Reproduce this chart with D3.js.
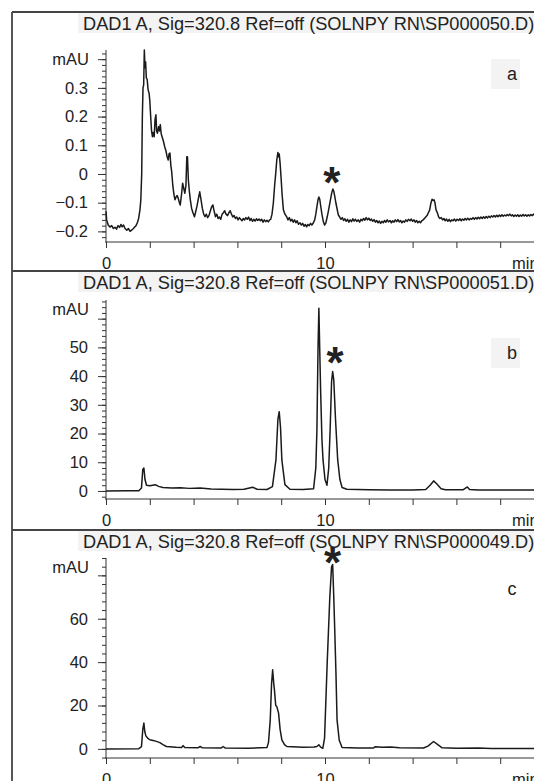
<!DOCTYPE html>
<html>
<head>
<meta charset="utf-8">
<script src="https://cdn.jsdelivr.net/npm/d3@7"></script>
<style>
  body { margin: 0; background: #fff; }
  text { font-family: "Liberation Sans", Arial, sans-serif; fill: #222; }
</style>
</head>
<body>
<svg id="chart" width="534" height="781"></svg>
<script>
// ---- data: [minutes, mAU] ----
var titles = [
  "DAD1 A, Sig=320.8 Ref=off (SOLNPY RN\\SP000050.D)",
  "DAD1 A, Sig=320.8 Ref=off (SOLNPY RN\\SP000051.D)",
  "DAD1 A, Sig=320.8 Ref=off (SOLNPY RN\\SP000049.D)"
];
var panelLabels = ["a", "b", "c"];
var xTicks = [0, 2, 4, 6, 8, 10, 12, 14, 16, 18, 20];
var xTickLabels = {0: "0", 10: "10"};

var traceA = [[0.00,-0.13],[0.03,-0.16],[0.10,-0.178],[0.18,-0.185],[0.26,-0.18],[0.34,-0.19],[0.41,-0.186],[0.48,-0.192],[0.55,-0.18],[0.62,-0.186],[0.68,-0.176],[0.74,-0.184],[0.80,-0.178],[0.87,-0.19],[0.95,-0.196],[1.02,-0.19],[1.10,-0.2],[1.18,-0.195],[1.25,-0.19],[1.31,-0.185],[1.37,-0.18],[1.43,-0.17],[1.49,-0.155],[1.55,-0.125],[1.59,-0.09],[1.63,0.0],[1.66,0.2],[1.69,0.30],[1.72,0.31],[1.75,0.432],[1.78,0.37],[1.81,0.39],[1.84,0.335],[1.88,0.33],[1.92,0.295],[1.97,0.28],[2.0,0.255],[2.04,0.2],[2.08,0.15],[2.12,0.13],[2.16,0.145],[2.2,0.13],[2.24,0.19],[2.28,0.206],[2.31,0.15],[2.35,0.142],[2.4,0.165],[2.44,0.15],[2.48,0.172],[2.52,0.14],[2.56,0.13],[2.62,0.115],[2.68,0.095],[2.74,0.08],[2.79,0.06],[2.84,0.049],[2.88,0.07],[2.92,0.073],[2.96,0.03],[3.0,0.008],[3.05,-0.04],[3.1,-0.07],[3.15,-0.09],[3.2,-0.08],[3.25,-0.075],[3.3,-0.085],[3.35,-0.1],[3.39,-0.108],[3.45,-0.07],[3.5,-0.032],[3.55,-0.05],[3.6,-0.067],[3.65,-0.04],[3.69,0.06],[3.72,0.06],[3.76,-0.02],[3.8,-0.056],[3.85,-0.09],[3.91,-0.12],[3.97,-0.135],[4.04,-0.149],[4.1,-0.13],[4.16,-0.11],[4.22,-0.085],[4.28,-0.062],[4.34,-0.09],[4.4,-0.12],[4.46,-0.14],[4.52,-0.149],[4.58,-0.14],[4.64,-0.152],[4.7,-0.145],[4.76,-0.13],[4.82,-0.115],[4.88,-0.108],[4.94,-0.13],[5.0,-0.149],[5.06,-0.14],[5.12,-0.155],[5.18,-0.15],[5.24,-0.158],[5.3,-0.14],[5.36,-0.135],[5.42,-0.128],[5.48,-0.14],[5.55,-0.145],[5.61,-0.135],[5.67,-0.128],[5.73,-0.14],[5.79,-0.15],[5.85,-0.145],[5.91,-0.155],[5.97,-0.15],[6.03,-0.16],[6.09,-0.152],[6.15,-0.158],[6.21,-0.163],[6.27,-0.155],[6.33,-0.16],[6.39,-0.152],[6.45,-0.158],[6.51,-0.15],[6.57,-0.162],[6.63,-0.155],[6.69,-0.165],[6.75,-0.158],[6.81,-0.164],[6.87,-0.156],[6.93,-0.162],[6.99,-0.157],[7.05,-0.163],[7.11,-0.158],[7.17,-0.168],[7.23,-0.16],[7.29,-0.166],[7.35,-0.161],[7.41,-0.167],[7.47,-0.16],[7.52,-0.158],[7.58,-0.14],[7.64,-0.102],[7.7,-0.04],[7.75,0.002],[7.8,0.05],[7.85,0.075],[7.88,0.06],[7.91,0.07],[7.95,0.037],[8.0,-0.02],[8.04,-0.07],[8.1,-0.125],[8.17,-0.14],[8.25,-0.149],[8.31,-0.16],[8.37,-0.152],[8.43,-0.164],[8.49,-0.158],[8.55,-0.168],[8.61,-0.16],[8.67,-0.17],[8.73,-0.163],[8.79,-0.175],[8.86,-0.17],[8.92,-0.178],[8.98,-0.172],[9.04,-0.182],[9.1,-0.176],[9.16,-0.184],[9.22,-0.176],[9.28,-0.18],[9.34,-0.172],[9.4,-0.178],[9.47,-0.17],[9.53,-0.16],[9.58,-0.14],[9.63,-0.115],[9.68,-0.09],[9.72,-0.08],[9.76,-0.088],[9.81,-0.115],[9.86,-0.14],[9.92,-0.165],[9.98,-0.178],[10.04,-0.17],[10.1,-0.15],[10.15,-0.131],[10.2,-0.11],[10.26,-0.085],[10.31,-0.065],[10.36,-0.052],[10.4,-0.06],[10.45,-0.08],[10.5,-0.102],[10.56,-0.125],[10.61,-0.143],[10.67,-0.15],[10.73,-0.158],[10.79,-0.152],[10.85,-0.162],[10.91,-0.156],[10.97,-0.165],[11.03,-0.158],[11.09,-0.168],[11.15,-0.16],[11.21,-0.166],[11.27,-0.156],[11.33,-0.164],[11.39,-0.158],[11.45,-0.165],[11.52,-0.16],[11.58,-0.168],[11.64,-0.158],[11.7,-0.163],[11.76,-0.155],[11.82,-0.161],[11.88,-0.152],[11.94,-0.16],[12.0,-0.154],[12.06,-0.162],[12.12,-0.157],[12.18,-0.165],[12.24,-0.159],[12.3,-0.168],[12.36,-0.162],[12.42,-0.17],[12.48,-0.164],[12.54,-0.172],[12.6,-0.165],[12.66,-0.17],[12.72,-0.162],[12.78,-0.168],[12.84,-0.16],[12.9,-0.167],[12.97,-0.162],[13.03,-0.17],[13.09,-0.163],[13.15,-0.168],[13.21,-0.16],[13.27,-0.166],[13.33,-0.159],[13.39,-0.167],[13.45,-0.162],[13.51,-0.17],[13.57,-0.164],[13.63,-0.168],[13.69,-0.16],[13.75,-0.165],[13.81,-0.158],[13.88,-0.163],[13.94,-0.157],[14.0,-0.165],[14.06,-0.16],[14.12,-0.168],[14.18,-0.162],[14.24,-0.17],[14.3,-0.165],[14.36,-0.17],[14.42,-0.163],[14.48,-0.16],[14.54,-0.155],[14.6,-0.15],[14.66,-0.145],[14.72,-0.135],[14.78,-0.125],[14.84,-0.1],[14.89,-0.088],[14.94,-0.092],[14.98,-0.09],[15.02,-0.1],[15.07,-0.125],[15.13,-0.135],[15.19,-0.15],[15.25,-0.155],[15.31,-0.152],[15.37,-0.16],[15.43,-0.155],[15.49,-0.163],[15.55,-0.157],[15.61,-0.165],[15.67,-0.158],[15.73,-0.166],[15.79,-0.16],[15.85,-0.163],[15.91,-0.157],[15.97,-0.164],[16.03,-0.158],[16.1,-0.162],[16.16,-0.156],[16.22,-0.163],[16.28,-0.157],[16.34,-0.161],[16.4,-0.155],[16.46,-0.16],[16.52,-0.154],[16.58,-0.16],[16.64,-0.155],[16.7,-0.158],[16.76,-0.152],[16.82,-0.158],[16.88,-0.152],[16.94,-0.157],[17.0,-0.151],[17.06,-0.156],[17.12,-0.15],[17.18,-0.155],[17.24,-0.149],[17.3,-0.154],[17.36,-0.148],[17.42,-0.153],[17.48,-0.147],[17.54,-0.152],[17.6,-0.146],[17.66,-0.15],[17.72,-0.145],[17.78,-0.15],[17.84,-0.144],[17.9,-0.149],[17.96,-0.143],[18.02,-0.148],[18.08,-0.142],[18.14,-0.147],[18.2,-0.143],[18.26,-0.146],[18.32,-0.141],[18.38,-0.145],[18.44,-0.14],[18.5,-0.146],[18.56,-0.142],[18.62,-0.148],[18.68,-0.143],[18.74,-0.147],[18.8,-0.142],[18.86,-0.148],[18.92,-0.143],[18.98,-0.147],[19.04,-0.141],[19.1,-0.146],[19.16,-0.142],[19.22,-0.147],[19.28,-0.142],[19.34,-0.146],[19.4,-0.141],[19.46,-0.145],[19.52,-0.14],[19.58,-0.145],[19.64,-0.142],[19.7,-0.146],[19.8,-0.143],[19.9,-0.146],[20.0,-0.143]];

var traceB = [[0,0],[1.0,0.1],[1.5,0.1],[1.62,1],[1.68,7.5],[1.73,8],[1.78,4],[1.85,2],[2.0,1.8],[2.25,2.2],[2.4,1.6],[2.6,1.2],[3.0,1.0],[3.4,1.1],[3.8,0.9],[4.3,1.0],[4.8,0.7],[5.3,0.6],[5.8,0.5],[6.3,0.6],[6.7,1.3],[6.9,0.6],[7.35,0.5],[7.6,1.5],[7.76,10.8],[7.85,25],[7.91,27.6],[7.97,22],[8.03,10.8],[8.17,2.2],[8.4,0.6],[9.0,0.5],[9.48,0.8],[9.58,8],[9.63,21],[9.68,49],[9.72,63.6],[9.76,49],[9.8,35],[9.86,18],[9.91,10.8],[10.0,4],[10.09,2],[10.17,8],[10.24,22.6],[10.3,38],[10.35,41.6],[10.4,38.7],[10.48,25],[10.58,10.8],[10.68,4],[10.78,1.2],[11,0.6],[12,0.4],[13,0.3],[14,0.3],[14.6,0.5],[14.8,2],[14.96,3.5],[15.1,2.5],[15.3,0.8],[15.5,0.4],[16.3,0.4],[16.5,1.4],[16.6,0.5],[17,0.3],[20,0.3]];

var traceC = [[0,0],[1.5,0.1],[1.62,1],[1.68,9],[1.73,11.9],[1.77,8],[1.82,6],[1.9,5],[2.0,4.2],[2.2,3.8],[2.46,2.9],[2.6,2],[2.76,1.1],[3.2,0.7],[3.45,0.6],[3.52,1.5],[3.6,0.6],[4.2,0.5],[4.3,1.1],[4.4,0.5],[5.25,0.4],[5.35,1.1],[5.45,0.4],[6.5,0.3],[7.35,0.6],[7.42,3],[7.5,13.4],[7.56,30],[7.61,36.5],[7.66,30],[7.69,27.3],[7.75,20],[7.8,19.5],[7.84,18],[7.88,16.5],[7.95,9],[8.03,4.2],[8.15,2],[8.26,1.1],[9,0.8],[9.5,0.9],[9.63,1.1],[9.72,1.9],[9.8,0.8],[9.9,0.2],[9.98,5],[10.1,39.5],[10.22,70],[10.3,84],[10.35,85],[10.4,70],[10.44,56.5],[10.5,35],[10.55,13.4],[10.65,4],[10.78,0.6],[11.5,0.4],[12.2,0.4],[12.3,1.0],[12.6,0.8],[13.0,0.9],[13.4,0.5],[14.5,0.4],[14.7,1.3],[14.96,3.4],[15.15,2],[15.35,0.5],[16,0.3],[17,0.4],[17.6,0.2],[20,0.2]];

var yMajorA = [-0.2, -0.1, 0, 0.1, 0.2, 0.3, 0.4];
var yMajorB = [0, 10, 20, 30, 40, 50, 60];
var yMajorC = [0, 20, 40, 60, 80];
var yMinorA = d3.range(-22, 43, 2).map(function(d) { return d / 100; });
var yMinorB = d3.range(-2, 67, 2);
var yMinorC = d3.range(-4, 89, 4);
// peak marked with the asterisk (minutes, mAU)
var starA = [10.36, -0.052], starB = [10.35, 41.6], starC = [10.35, 85];

var svg = d3.select("#chart");

var panels = [
  {top: 12,  axisY: 242, yDom: [-0.237, 0.432], yTop: 50,  trace: traceA, major: yMajorA, minor: yMinorA, topTick: 0.4, star: starA, starDx: -1, starGap: 9,
   fmt: function(d) { return d === 0 ? "0" : d3.format(".1f")(d); }, box: true, labelY: 80},
  {top: 271, axisY: 499, yDom: [-2.8, 66.5],    yTop: 300, trace: traceB, major: yMajorB, minor: yMinorB, topTick: 60,  star: starB, starDx: 2.5, starGap: 6,
   fmt: d3.format("d"), box: true, labelY: 359},
  {top: 530, axisY: 758, yDom: [-4.2, 88],      yTop: 558, trace: traceC, major: yMajorC, minor: yMinorC, topTick: 80,  star: starC, starDx: 0, starGap: 13,
   fmt: d3.format("d"), box: false, labelY: 595}
];

var x = d3.scaleLinear().domain([0, 20]).range([106, 544]);

panels.forEach(function(p, i) {
  var g = svg.append("g").attr("class", "panel");
  var y = d3.scaleLinear().domain(p.yDom).range([p.axisY, p.yTop]);

  // title strip
  g.append("rect")
    .attr("x", 78).attr("y", p.top + 1)
    .attr("width", 460).attr("height", 20)
    .attr("fill", "#f3f3f3");
  g.append("text")
    .attr("x", 83).attr("y", p.top + 18)
    .style("font-size", "18.2px")
    .text(titles[i]);

  // y axis: minor then major ticks
  g.append("g")
    .attr("transform", "translate(106,0)")
    .call(d3.axisLeft(y).tickValues(p.minor).tickSize(4).tickSizeOuter(0).tickFormat(""))
    .call(function(s) { s.select(".domain").remove(); })
    .selectAll("line").attr("stroke", "#333");
  var ya = g.append("g")
    .attr("transform", "translate(106,0)")
    .call(d3.axisLeft(y).tickValues(p.major).tickSize(8).tickSizeOuter(0).tickPadding(10)
      .tickFormat(function(d) { return d === p.topTick ? "" : p.fmt(d); }));
  ya.select(".domain").attr("d", "M0," + p.yTop + "V" + p.axisY);
  ya.selectAll("text").style("font-size", "16.5px").style("font-family", "Liberation Sans, Arial, sans-serif").attr("fill", "#222");
  ya.selectAll("line, path").attr("stroke", "#333");
  g.append("text")
    .attr("x", 89).attr("y", p.yTop + 15)
    .attr("text-anchor", "end")
    .style("font-size", "16.5px")
    .text("mAU");

  // x axis
  var xa = g.append("g")
    .attr("transform", "translate(0," + p.axisY + ")")
    .call(d3.axisBottom(x).tickValues(xTicks).tickSize(6).tickSizeOuter(0).tickPadding(9)
      .tickFormat(function(d) { return xTickLabels[d] || ""; }));
  xa.select(".domain").attr("d", "M105,0H560");
  xa.selectAll("text").style("font-size", "16.5px").style("font-family", "Liberation Sans, Arial, sans-serif").attr("fill", "#222");
  xa.selectAll("line, path").attr("stroke", "#333");
  g.append("text")
    .attr("x", 512).attr("y", p.axisY + 27)
    .style("font-size", "16.5px")
    .text("min");

  // chromatogram trace
  var line = d3.line()
    .x(function(d) { return x(d[0]); })
    .y(function(d) { return y(d[1]); });
  g.append("path")
    .datum(p.trace)
    .attr("d", line)
    .attr("fill", "none")
    .attr("stroke", "#1a1a1a")
    .attr("stroke-width", 1.5)
    .attr("stroke-linejoin", "round");

  // asterisk above the marked peak
  g.append("text")
    .attr("x", x(p.star[0]) + p.starDx)
    .attr("y", y(p.star[1]) + p.starGap)
    .attr("text-anchor", "middle")
    .style("font-size", "44px")
    .style("font-weight", "bold")
    .attr("fill", "#111")
    .text("*");

  // panel letter
  if (p.box) {
    g.append("rect")
      .attr("x", 491).attr("y", p.labelY - 21)
      .attr("width", 29).attr("height", 30)
      .attr("fill", "#f3f3f3");
  }
  g.append("text")
    .attr("x", 512).attr("y", p.labelY)
    .attr("text-anchor", "middle")
    .style("font-size", "18px")
    .text(panelLabels[i]);
});

// frame lines
[12, 271, 530].forEach(function(yy) {
  svg.append("line")
    .attr("x1", 12).attr("x2", 534).attr("y1", yy).attr("y2", yy)
    .attr("stroke", "#444").attr("stroke-width", 1.8);
});
svg.append("line")
  .attr("x1", 12).attr("x2", 12).attr("y1", 12).attr("y2", 781)
  .attr("stroke", "#444").attr("stroke-width", 1.8);
</script>
</body>
</html>
